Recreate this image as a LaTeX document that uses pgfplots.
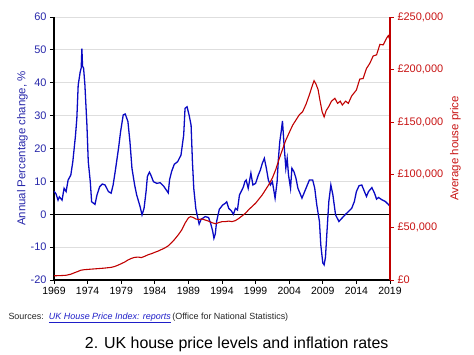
\documentclass[border=0pt]{standalone}
\usepackage{pgfplots}
\pgfplotsset{compat=1.18}
\usepackage{fontspec}
\setmainfont{Liberation Sans}
\definecolor{bline}{RGB}{10,10,195}
\definecolor{btext}{RGB}{40,40,170}
\definecolor{rline}{RGB}{192,0,0}
\definecolor{rtext}{RGB}{200,20,20}
\definecolor{gridc}{RGB}{222,222,222}
\definecolor{linkc}{RGB}{30,30,200}

\pgfplotstableread{
year val
1969.0 7
1969.3 6.2
1969.6 4.3
1969.8 5.3
1970.2 4.3
1970.5 7.9
1970.8 6.9
1971.1 10.4
1971.5 11.9
1971.8 16
1972.0 20
1972.2 24
1972.4 29.2
1972.6 39.3
1972.9 43.3
1973.05 44.5
1973.15 50.4
1973.25 45
1973.4 44.5
1973.6 39.3
1973.9 27.1
1974.1 16
1974.4 9.9
1974.6 3.8
1975.1 3.0
1975.4 5.9
1975.8 8.4
1976.2 9.2
1976.6 8.9
1977.1 6.9
1977.5 6.4
1977.8 8.9
1978.1 12.9
1978.6 20
1978.9 25
1979.3 30.2
1979.6 30.5
1980.0 28.2
1980.3 22.1
1980.6 14
1981.0 8.9
1981.3 5.9
1981.8 2.4
1982.1 -0.2
1982.4 1.8
1982.7 6.9
1982.9 11.5
1983.2 12.8
1983.4 12.0
1983.8 9.9
1984.3 9.4
1984.8 9.6
1985.3 8.6
1985.7 7.4
1986.0 6.5
1986.2 10.5
1986.5 13
1986.9 15.2
1987.4 16
1987.9 18
1988.1 21.1
1988.3 24.1
1988.5 32.2
1988.8 32.7
1989.1 30.2
1989.4 27.1
1989.6 16
1989.8 7.9
1990.1 1.8
1990.3 -0.2
1990.6 -3.0
1990.9 -1.5
1991.3 -1.0
1991.5 -0.7
1992.0 -1.0
1992.3 -2.7
1992.6 -5
1992.8 -7.3
1993.0 -6.0
1993.2 -2.2
1993.6 1.5
1994.1 2.8
1994.4 3.2
1994.7 3.8
1995.0 1.8
1995.4 1.0
1995.7 0
1996.0 1.8
1996.3 1.3
1996.6 5.9
1997.0 7.5
1997.2 8.4
1997.4 9.9
1997.6 10.4
1997.9 7.9
1998.3 12.5
1998.6 8.9
1999.0 9.4
1999.4 11.9
1999.7 13.4
2000.0 15.5
2000.3 17
2000.6 14
2000.9 10.4
2001.2 8.9
2001.5 9.9
2001.9 4.9
2002.2 9.9
2002.4 17
2002.6 22.1
2002.8 25
2003.0 28.4
2003.2 22.1
2003.5 14
2003.7 17
2003.9 11.9
2004.2 7.9
2004.4 14
2004.7 13
2005.0 11
2005.3 7.9
2005.9 4.9
2006.4 7.4
2007.0 10.4
2007.5 10.4
2007.8 7.9
2008.1 2.9
2008.5 -2.2
2008.7 -9.3
2009.0 -14.8
2009.2 -15.4
2009.4 -13
2009.6 -6
2009.9 3.9
2010.2 8.9
2010.5 5.9
2010.9 -0.2
2011.4 -2.2
2011.8 -1.3
2012.3 -0.2
2012.8 0.8
2013.3 1.8
2013.7 3.9
2014.0 6.9
2014.4 8.7
2014.8 8.9
2015.2 6.9
2015.5 5.4
2015.8 6.9
2016.3 8.1
2016.7 6.4
2017.0 4.6
2017.3 5.1
2017.8 4.4
2018.3 3.9
2018.7 3.1
2019.0 2.4
}\annual

\pgfplotstableread{
year price
1969.0 4000
1970.0 4200
1970.8 4500
1971.5 5500
1972.0 6800
1972.5 8000
1973.0 9300
1973.5 9800
1974.5 10300
1975.5 10800
1976.5 11300
1977.5 12000
1978.0 12800
1978.5 14000
1979.0 15500
1979.5 17000
1980.0 19000
1980.5 20500
1981.0 21500
1981.5 21800
1982.0 21300
1982.5 22500
1983.0 24000
1983.5 25000
1984.0 26300
1984.5 27500
1985.0 29000
1985.5 30500
1986.0 32500
1986.5 35500
1987.0 39000
1987.5 43000
1988.0 47500
1988.5 54000
1989.0 59000
1989.3 60200
1989.7 59500
1990.1 58000
1990.5 57500
1991.0 58000
1991.5 57000
1992.0 56000
1992.5 54500
1993.0 53500
1993.5 54500
1994.0 55500
1994.5 55500
1995.0 56000
1995.5 55500
1996.0 56500
1996.5 58500
1997.0 61000
1997.5 63500
1998.0 67000
1998.5 70000
1999.0 73000
1999.5 77000
2000.0 81000
2000.5 86000
2001.0 91000
2001.5 97000
2002.0 105000
2002.5 115000
2003.0 124000
2003.5 133000
2004.0 140000
2004.5 147000
2005.0 152000
2005.5 157000
2006.0 160000
2006.5 167000
2007.0 176000
2007.4 184000
2007.7 189500
2008.0 186000
2008.3 181000
2008.6 170000
2008.9 160000
2009.2 155000
2009.5 161000
2009.9 165000
2010.3 170000
2010.8 172700
2011.2 167900
2011.6 170000
2011.9 166300
2012.4 170000
2012.8 167900
2013.3 175000
2014.0 180600
2014.5 191000
2015.0 191500
2015.5 201000
2016.0 206000
2016.5 213000
2017.0 214000
2017.5 224000
2018.0 223500
2018.5 230000
2018.75 232300
2019.0 228000
}\price

\begin{document}
\begin{tikzpicture}
\begin{axis}[
  scale only axis, width=336bp, height=263bp,
  xmin=1969, xmax=2019, ymin=-20, ymax=60,
  axis x line*=bottom, axis y line*=left,
  xtick={1969,1974,...,2019}, ytick={-20,-10,...,60},
  ymajorgrids, major grid style={gridc, line width=0.8pt},
  tick align=outside, major tick length=4bp,
  every tick/.style={black, line width=0.8pt},
  x axis line style={-, black, line width=1.2pt},
  y axis line style={-, black, line width=1.2pt},
  xticklabel style={font=\fontsize{10.5}{12}\selectfont, text=black},
  yticklabel style={font=\fontsize{11}{13}\selectfont, text=btext},
  /pgf/number format/1000 sep={}, /pgf/number format/assume math mode=true,
  ylabel={Annual Percentage change, \%},
  ylabel style={font=\fontsize{11.5}{13}\selectfont, text=btext, yshift=-4bp},
]
\draw[black, line width=0.9pt] (axis cs:1969,0) -- (axis cs:2019,0);
\addplot[bline, line width=1.3pt, mark=none] table[x=year, y=val] {\annual};
\end{axis}
\begin{axis}[
  scale only axis, width=336bp, height=263bp,
  xmin=1969, xmax=2019, ymin=0, ymax=250000,
  axis x line=none, axis y line*=right,
  ytick={0,50000,...,250000},
  yticklabels={{£0},{£50,000},{£100,000},{£150,000},{£200,000},{£250,000}},
  scaled y ticks=false,
  tick align=outside, major tick length=4bp,
  every tick/.style={rline, line width=0.8pt},
  y axis line style={-, rline, line width=1.2pt},
  yticklabel style={font=\fontsize{11}{13}\selectfont, text=rtext},
  ylabel={Average house price},
  ylabel style={font=\fontsize{11.5}{13}\selectfont, text=rtext},
]
\addplot[rline, line width=1.1pt, mark=none] table[x=year, y=price] {\price};
\end{axis}
\node[anchor=base west, font=\fontsize{9}{11}\selectfont, text=black!85] at (-49bp,-39bp)
  {Sources:\ \ {\color{linkc}\itshape\underline{UK House Price Index: reports}}\,(Office for National Statistics)};
\node[anchor=base, font=\fontsize{16}{19}\selectfont] at (182.7bp,-68.3bp)
  {2. UK house price levels and inflation rates};
\pgfresetboundingbox
\useasboundingbox (-54bp,-75bp) rectangle (420bp,280bp);
\end{tikzpicture}
\end{document}
